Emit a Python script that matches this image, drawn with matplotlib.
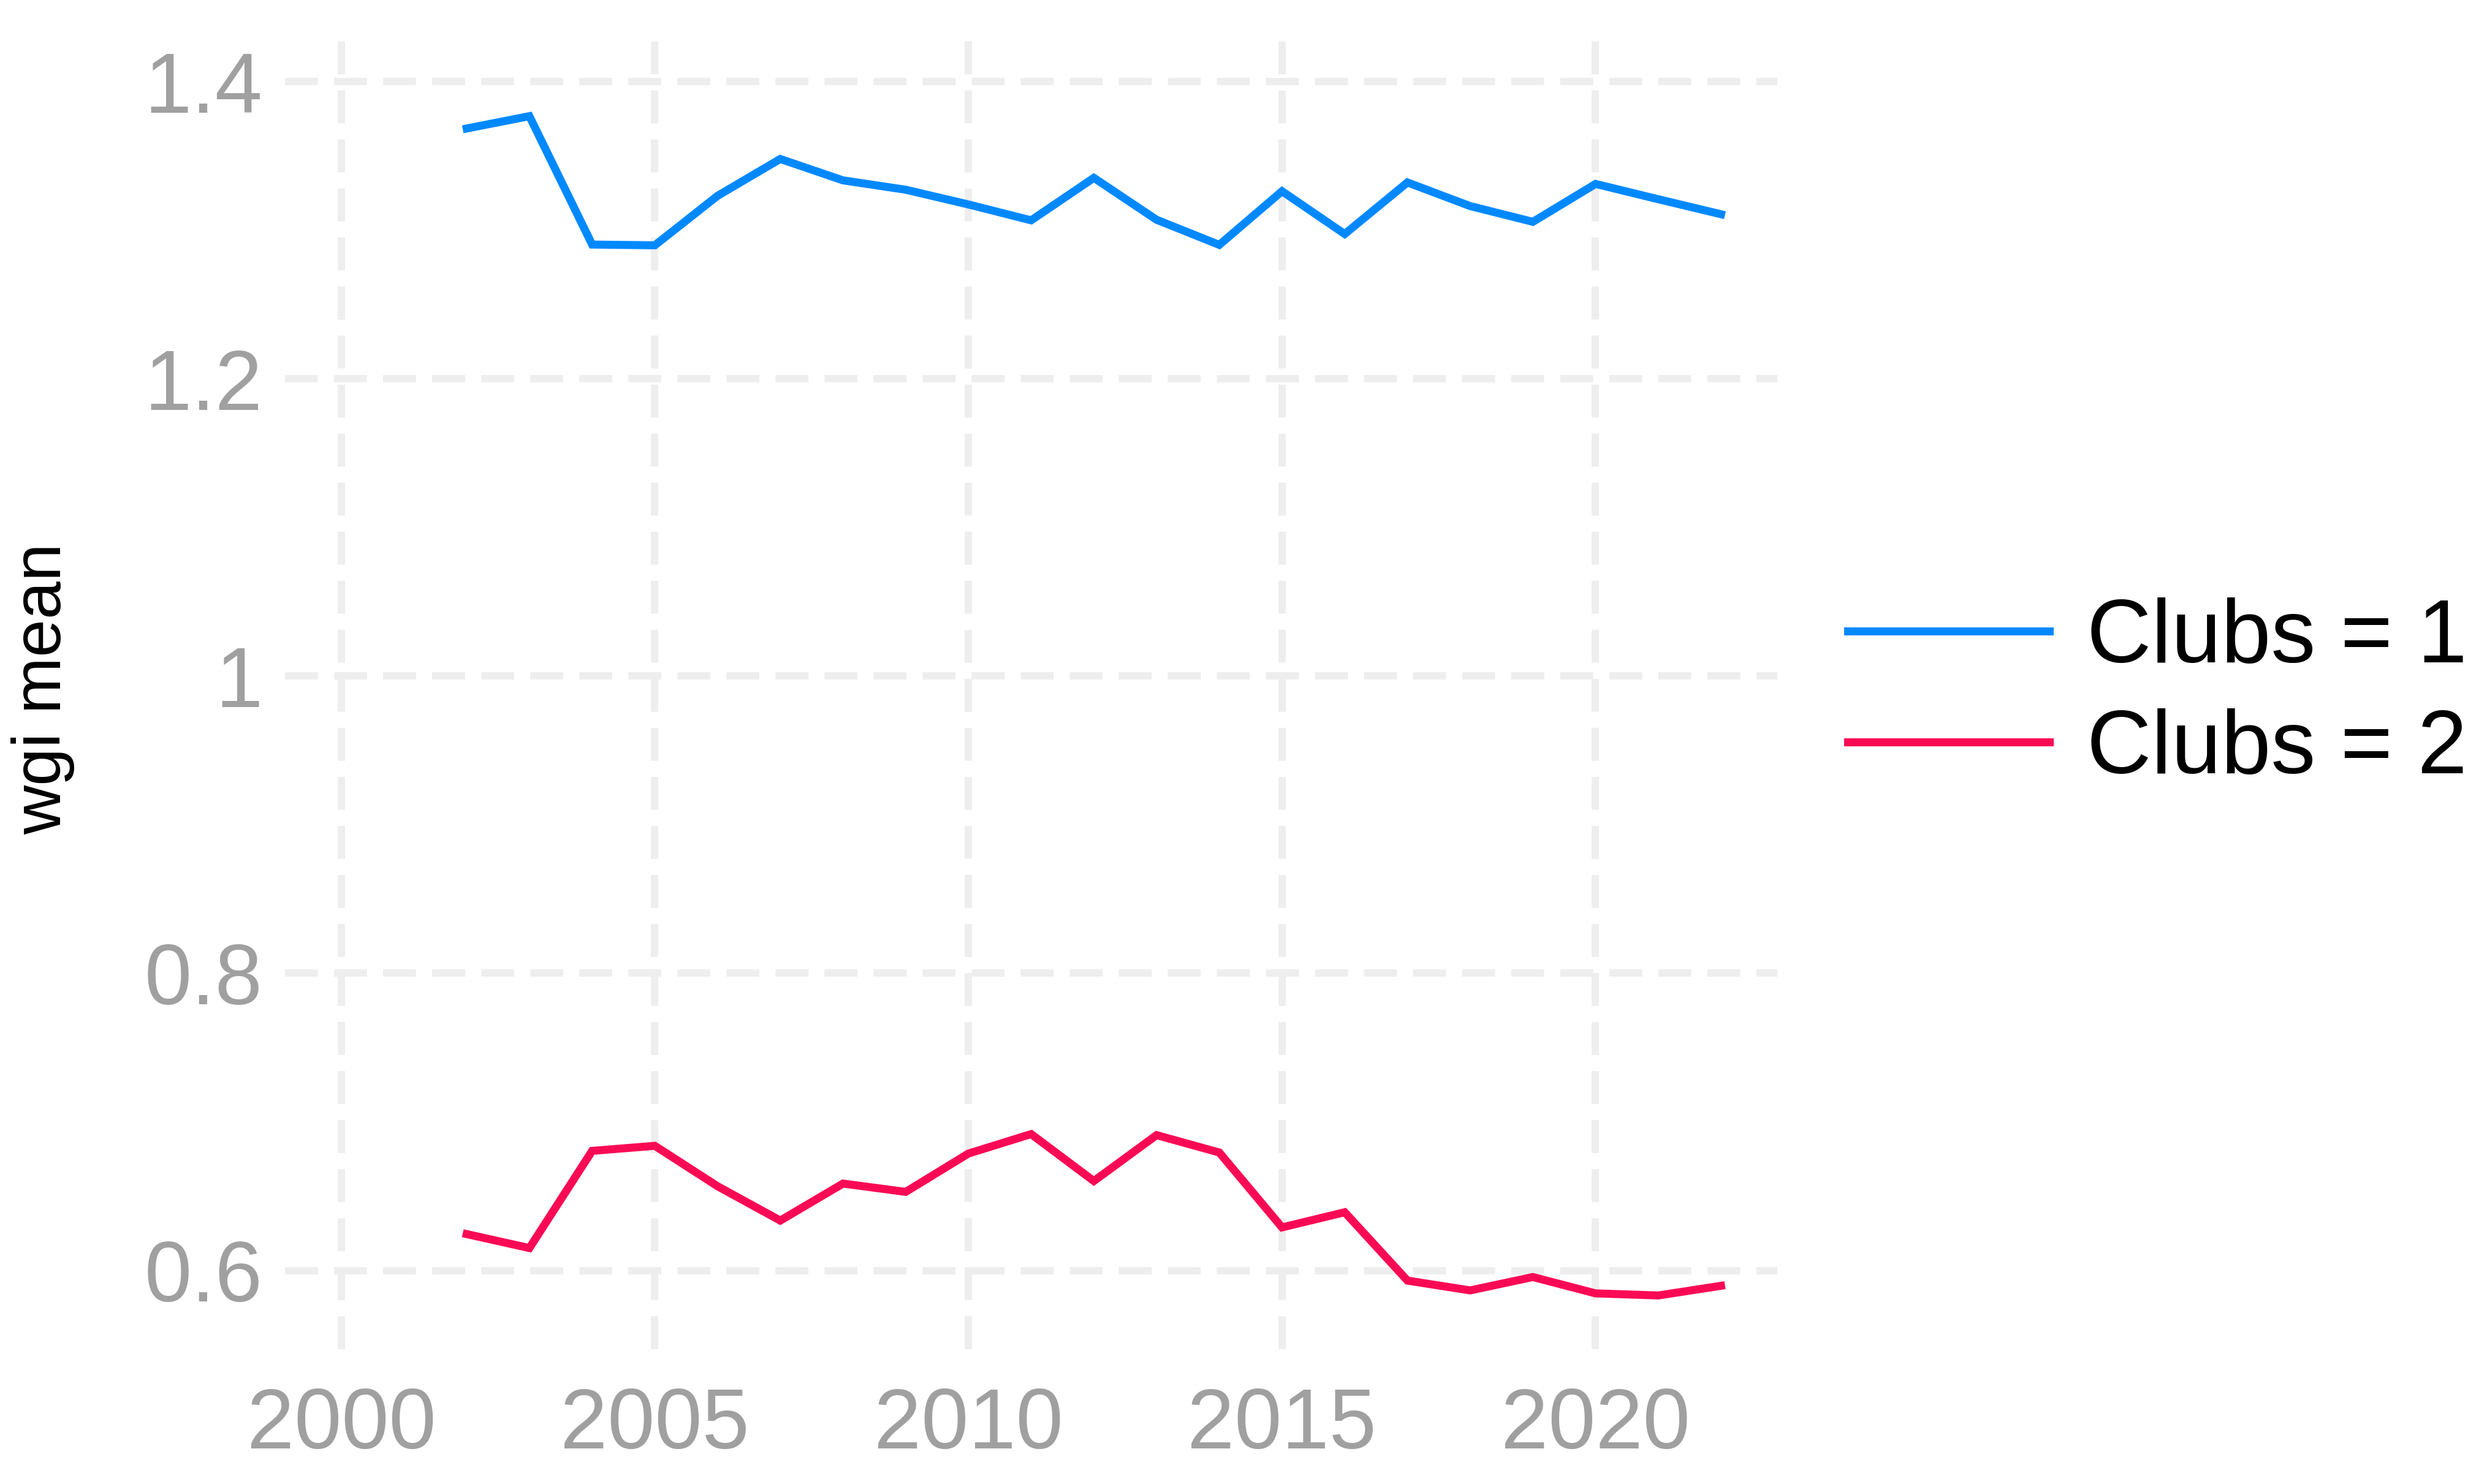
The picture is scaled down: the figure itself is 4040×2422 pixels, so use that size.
import matplotlib
matplotlib.use("Agg")
import matplotlib.pyplot as plt

# values
years = list(range(2002, 2023))
club1 = [1.3685, 1.3768, 1.2904, 1.2899, 1.3232, 1.3480, 1.3336, 1.3273, 1.3174, 1.3067, 1.3353,
         1.3071, 1.2902, 1.3263, 1.2975, 1.3322, 1.3163, 1.3057, 1.3312, 1.3209, 1.3108]
club2 = [0.6245, 0.6151, 0.6805, 0.6839, 0.6567, 0.6336, 0.6585, 0.6529, 0.6787, 0.6918, 0.6602,
         0.6911, 0.6794, 0.6290, 0.6392, 0.5932, 0.5866, 0.5956, 0.5846, 0.5832, 0.5897]
labels = ["Clubs = 1", "Clubs = 2"]
colors = ["#0089FF", "#FA0A55"]
xticks = [2000, 2005, 2010, 2015, 2020]
yticks = [0.6, 0.8, 1.0, 1.2, 1.4]
ytick_labels = ["0.6", "0.8", "1", "1.2", "1.4"]

plt.rcParams['font.family'] = ['Liberation Sans', 'DejaVu Sans']

fig = plt.figure(figsize=(40.41, 24.22), dpi=100)
ax = fig.add_axes([0.115, 0.0908, 0.6027, 0.8902])

for vals, lab, col in zip([club1, club2], labels, colors):
    ax.plot(years, vals, color=col, lw=9.4, label=lab, solid_joinstyle='miter')

ax.set_xlim(1999.1, 2022.9)
ax.set_ylim(0.547, 1.436)
ax.set_xticks(xticks)
ax.set_yticks(yticks)
ax.set_yticklabels(ytick_labels)
ax.tick_params(length=0, labelsize=100, labelcolor='#a0a0a0')
ax.tick_params(axis='y', pad=26)
ax.tick_params(axis='x', pad=44)
for s in ax.spines.values():
    s.set_visible(False)
ax.grid(True, color='#eeeeee', lw=8.6, linestyle=(0, (4.5, 2.2)))
ax.set_axisbelow(True)

ax.set_ylabel("wgi mean", fontsize=80, color='black', va='center')
ax.yaxis.set_label_coords(-0.162, 0.5)

fig.legend(loc='center left', bbox_to_anchor=(0.746, 0.532), frameon=False, fontsize=105,
           handlelength=2.26, handletextpad=0.42, labelspacing=0.31, borderpad=0, borderaxespad=0)

fig.savefig("out.png", dpi=100)
